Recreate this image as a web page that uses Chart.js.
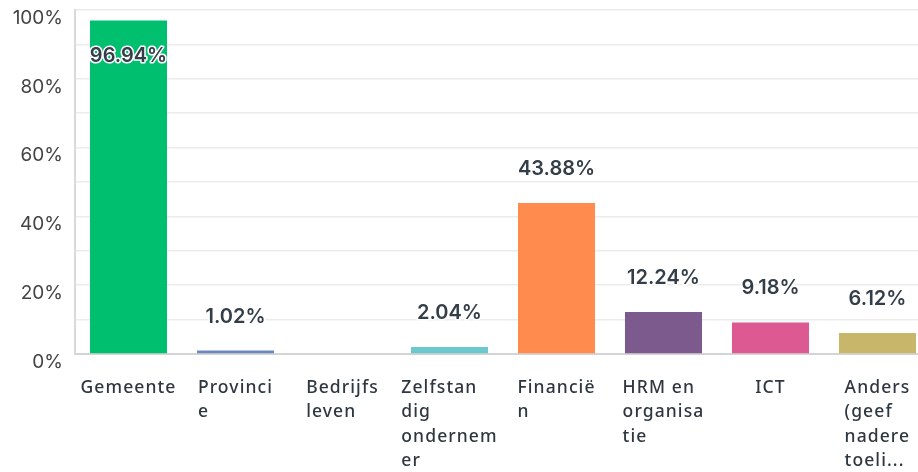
<!DOCTYPE html>
<html><head><meta charset="utf-8">
<script src="https://cdn.jsdelivr.net/npm/chart.js@4/dist/chart.umd.min.js"></script>
<style>html,body{margin:0;padding:0;background:#fff;overflow:hidden;width:918px;height:472px}canvas{display:block}</style>
</head><body><canvas id="c" width="935" height="472"></canvas>
<script>
const categories = [["Gemeente"],["Provinci","e"],["Bedrijfs","leven"],["Zelfstan","dig","ondernem","er"],["Financië","n"],["HRM en","organisa","tie"],["ICT"],["Anders","(geef","nadere","toeli..."]];
const values = [96.94, 1.02, 0, 2.04, 43.88, 12.24, 9.18, 6.12];
const valueLabels = ["96.94%", "1.02%", "", "2.04%", "43.88%", "12.24%", "9.18%", "6.12%"];
const barColors = ["#00BF6F", "#6C89BD", "#F9BE00", "#6BC8CD", "#FF8B4F", "#7D5A8E", "#DC5992", "#C8B66B"];
const yTickValues = [0, 20, 40, 60, 80, 100];
const yTickLabels = ["0%", "20%", "40%", "60%", "80%", "100%"];

const textColor = "#333e48";

const valueLabelPlugin = {
  id: "valueLabels",
  afterDatasetsDraw(chart) {
    const ctx = chart.ctx;
    const meta = chart.getDatasetMeta(0);
    const area = chart.chartArea;
    ctx.save();
    ctx.font = "600 20px Inter";
    ctx.textAlign = "center";
    ctx.textBaseline = "middle";
    ctx.lineJoin = "round";
    meta.data.forEach((bar, i) => {
      const txt = valueLabels[i];
      if (!txt) return;
      let y = bar.y - 34;
      if (y < area.top + 12) y = bar.y + 35;
      ctx.strokeStyle = "#fff";
      ctx.lineWidth = 3;
      ctx.strokeText(txt, bar.x, y);
      ctx.fillStyle = textColor;
      ctx.fillText(txt, bar.x, y);
    });
    ctx.restore();
  }
};

const xLabelPlugin = {
  id: "xLabels",
  afterDraw(chart) {
    const ctx = chart.ctx;
    const xs = chart.scales.x;
    const area = chart.chartArea;
    ctx.save();
    ctx.font = "500 17.5px 'Noto Sans'";
    ctx.letterSpacing = "1.1px";
    ctx.fillStyle = "#2e3740";
    ctx.textAlign = "left";
    ctx.textBaseline = "middle";
    categories.forEach((lines, i) => {
      const cx = xs.getPixelForValue(i);
      const w = Math.max(...lines.map(l => ctx.measureText(l).width));
      const x0 = cx - w / 2;
      lines.forEach((l, j) => {
        ctx.fillText(l, x0, area.bottom + 34 + j * 24.5);
      });
    });
    ctx.restore();
  }
};

new Chart(document.getElementById("c"), {
  type: "bar",
  data: {
    labels: categories.map(l => l.join(" ")),
    datasets: [{
      data: values,
      backgroundColor: barColors,
      borderWidth: 0,
      barPercentage: 0.72,
      categoryPercentage: 1.0
    }]
  },
  options: {
    responsive: false,
    devicePixelRatio: 1,
    animation: false,
    layout: { padding: { top: 10, right: 4, left: 0, bottom: 0 } },
    plugins: { legend: { display: false }, tooltip: { enabled: false } },
    scales: {
      x: {
        grid: { display: false },
        border: { display: true, color: "#d4d4d4", width: 2 },
        ticks: { display: false },
        afterFit: s => { s.height = 118; }
      },
      y: {
        min: 0, max: 100,
        afterFit: s => { s.width = 75; s.paddingTop = 0; s.paddingBottom = 0; },
        grid: { color: "#ececec", lineWidth: 1.5, drawTicks: false },
        border: { display: true, color: "#d9d9d9", width: 2 },
        ticks: {
          stepSize: 10,
          padding: 12,
          labelOffset: 8,
          color: "#444",
          font: { family: "Inter", size: 19 },
          autoSkip: false,
          callback: v => { const k = yTickValues.indexOf(v); return k >= 0 ? yTickLabels[k] : ""; }
        }
      }
    }
  },
  plugins: [valueLabelPlugin, xLabelPlugin]
});
</script>
</body></html>
